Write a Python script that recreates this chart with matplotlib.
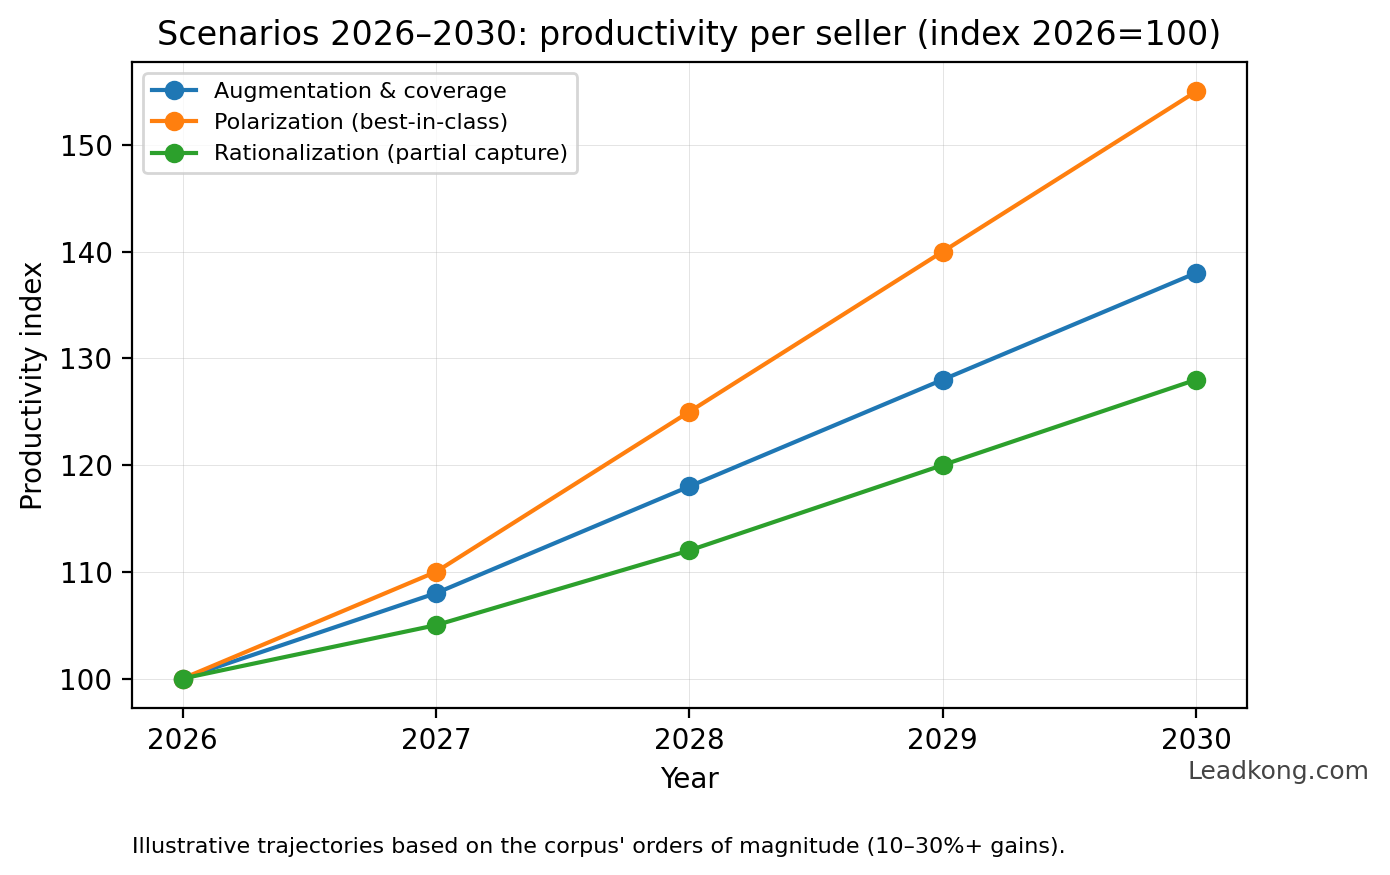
import matplotlib
matplotlib.use('Agg')
from matplotlib import pyplot as plt

years = [2026, 2027, 2028, 2029, 2030]
augmentation = [100, 108, 118, 128, 138]
polarization = [100, 110, 125, 140, 155]
rationalization = [100, 105, 112, 120, 128]

fig = plt.figure(figsize=(6.95, 4.375), dpi=200)
ax = fig.add_axes([0.095, 0.191, 0.802, 0.738])

ax.plot(years, augmentation, marker='o', label='Augmentation & coverage')
ax.plot(years, polarization, marker='o', label='Polarization (best-in-class)')
ax.plot(years, rationalization, marker='o', label='Rationalization (partial capture)')

ax.set_xticks(years)
ax.set_title('Scenarios 2026–2030: productivity per seller (index 2026=100)')
ax.set_xlabel('Year')
ax.set_ylabel('Productivity index')
ax.grid(True, linewidth=0.3, alpha=0.4)
ax.legend(loc='upper left', fontsize=8)

fig.text(0.095, 0.025, "Illustrative trajectories based on the corpus' orders of magnitude (10–30%+ gains).",
         fontsize=8)
fig.text(0.985, 0.11, 'Leadkong.com', fontsize=9, color='#444444', ha='right')

fig.savefig('out.png', dpi=200)
